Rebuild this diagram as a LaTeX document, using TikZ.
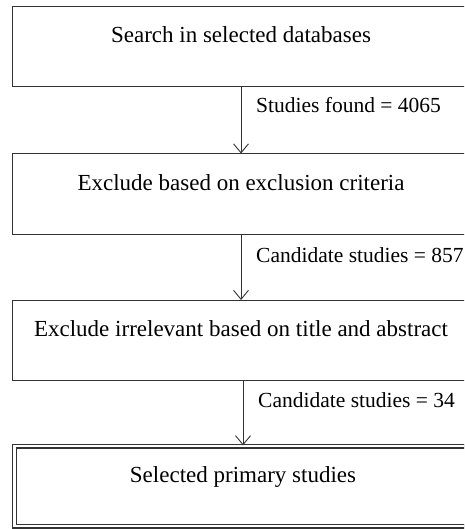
\documentclass[tikz,border=0pt]{standalone}
\usepackage{fontspec}
\setmainfont{Liberation Serif}
\usetikzlibrary{arrows.meta,positioning}
\definecolor{boxline}{HTML}{333333}

\begin{document}
\begin{tikzpicture}[
  x=1pt, y=-1pt,
  stage/.style={rectangle, draw=boxline, line width=1pt, minimum width=458pt, inner sep=0pt, text height=36pt, text depth=44pt, align=center, font=\fontsize{23}{27}\selectfont},
  final/.style={stage, double, line width=1.3pt, double distance=2.4pt, minimum width=457pt},
  count/.style={anchor=base west, inner sep=0pt, font=\fontsize{21.5}{25}\selectfont},
  arrow/.style={-{Straight Barb[length=9pt,width=15pt]}, draw=boxline, line width=0.9pt}
]
\useasboundingbox (0,0) rectangle (464,529);
\clip (0,0) rectangle (464,529);
\node[stage] (search) at (241,46.5) {Search in selected databases};
\node[stage] (criteria) at (241,194) {Exclude based on exclusion criteria};
\node[stage] (abstract) at (241,340.5) {Exclude irrelevant based on title and abstract};
\node[final] (primary) at (243,486) {Selected primary studies};
\node[count] (found) at (256,113) {Studies found = 4065};
\node[count] (cand1) at (256,262) {Candidate studies = 857};
\node[count] (cand2) at (258,407) {Candidate studies = 34};
\draw[arrow] (search) -- (criteria);
\draw[arrow] (criteria) -- (abstract);
\draw[arrow] (abstract.south -| primary) -- (primary);
\end{tikzpicture}
\end{document}
